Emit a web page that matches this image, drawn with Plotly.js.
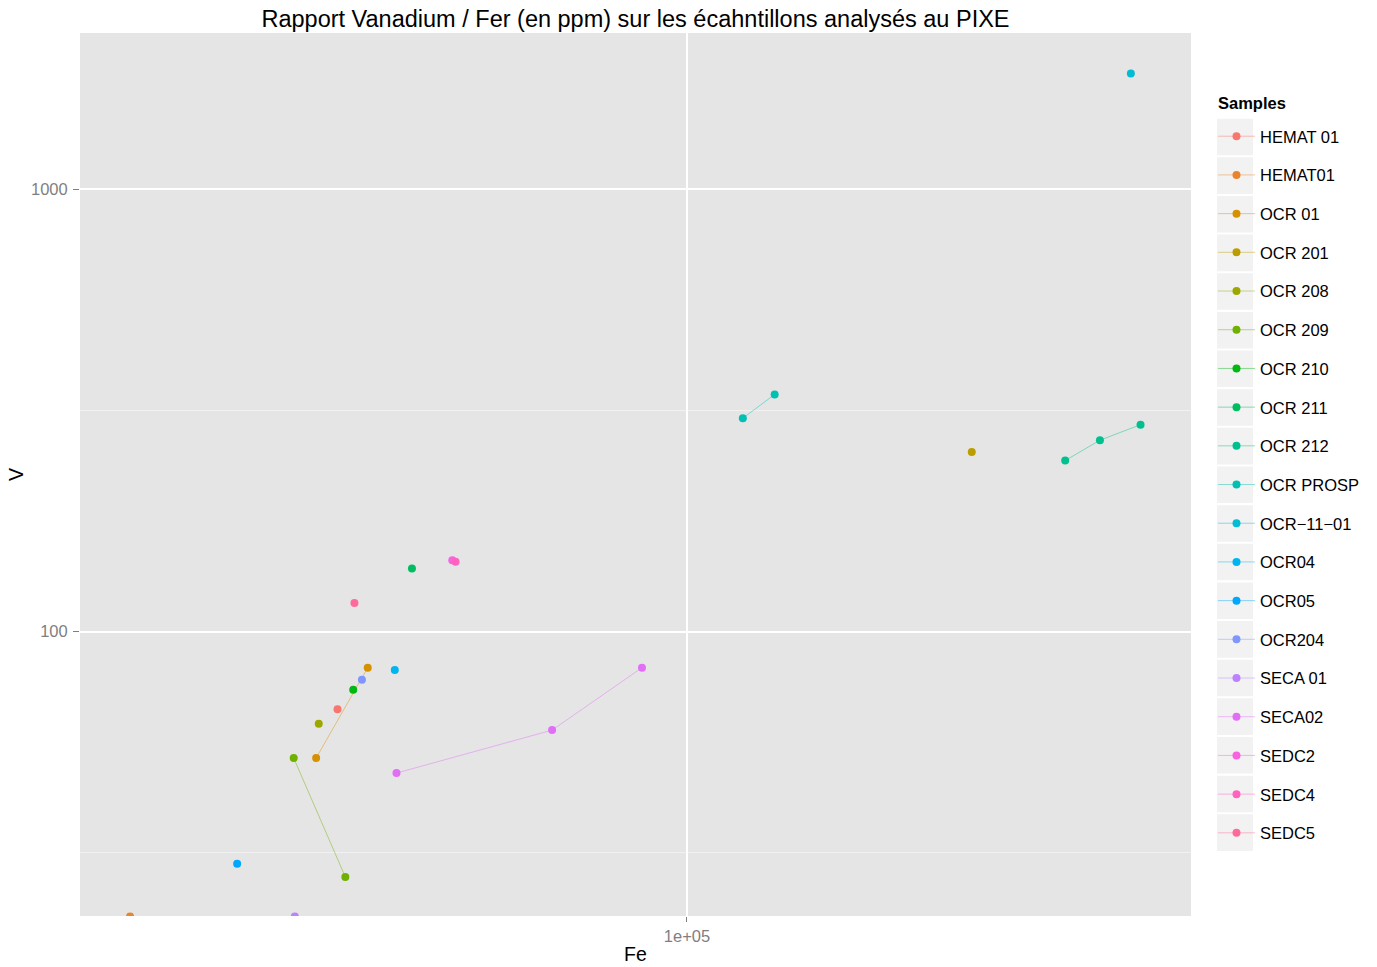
<!DOCTYPE html>
<html><head><meta charset="utf-8">
<script src="https://cdn.plot.ly/plotly-3.0.1.min.js"></script>
<style>html,body{margin:0;padding:0;background:#fff;} #chart{width:1377px;height:967px;}</style>
</head><body><div id="chart"></div>
<script>
// ---- data ----
const samples = ["HEMAT 01","HEMAT01","OCR 01","OCR 201","OCR 208","OCR 209","OCR 210","OCR 211","OCR 212","OCR PROSP","OCR\u221211\u221201","OCR04","OCR05","OCR204","SECA 01","SECA02","SEDC2","SEDC4","SEDC5"];
const feValues = [
  [53850],
  [37290],
  [51850, 56810],
  [165600],
  [52090],
  [49830, 54600],
  [55370],
  [61440],
  [195400, 207800, 223300],
  [110400, 116800],
  [219500],
  [59600],
  [45080],
  [56230],
  [49930],
  [59780, 78750, 92340],
  [65990],
  [66370],
  [55490]
];
const vValues = [
  [66.8],
  [22.7],
  [51.8, 82.9],
  [254.7],
  [61.9],
  [51.8, 27.9],
  [73.9],
  [138.9],
  [243.6, 270.8, 293.6],
  [303.7, 343.6],
  [1825],
  [81.9],
  [29.9],
  [77.9],
  [22.7],
  [47.9, 59.9, 82.9],
  [144.9],
  [143.8],
  [116.0]
];
const xTickVals = [1e5];
const xTickText = ["1e+05"];
const yTickVals = [100, 1000];
const yTickText = ["100", "1000"];
const yMinorVals = [Math.pow(10,1.5), Math.pow(10,2.5)];
const legendTitle = "Samples";

// ---- style ----
const palette = ["#F8766D","#E9842C","#D69100","#BC9D00","#9CA700","#6FB000","#00B813","#00BD61","#00C08E","#00C0B4","#00BDD4","#00B5EE","#00A7FF","#7F96FF","#BC81FF","#E26EF7","#F863DF","#FF62BF","#FF6A9A"];
function rgba(hex, a){
  const n = parseInt(hex.slice(1),16);
  return `rgba(${(n>>16)&255},${(n>>8)&255},${n&255},${a})`;
}
const W = 1377, H = 967;
const M = {l:80, r:186, t:33, b:50.5};
const plotW = W - M.l - M.r, plotH = H - M.t - M.b;
const FONT = "Liberation Sans, Arial, Helvetica, sans-serif";

const traces = samples.map((s,i) => ({
  type:'scatter', mode:'lines+markers', name:s, legendgroup:'g'+i,
  x: feValues[i], y: vValues[i],
  line:{color: rgba(palette[i],0.45), width:1},
  marker:{color: palette[i], size:8},
  hoverinfo:'x+y+name'
}));

// legend key background boxes (decoration)
const keyTop = 137, keyStep = 38.67;
const shapes = samples.map((s,i) => {
  const cy = keyTop + i*keyStep;
  return {type:'rect', xref:'paper', yref:'paper', layer:'below',
    x0:(1217-M.l)/plotW, x1:(1253-M.l)/plotW,
    y0:(H-M.b-(cy+18.3))/plotH, y1:(H-M.b-(cy-18.3))/plotH,
    fillcolor:'#F2F2F2', line:{width:0}};
});

const layout = {
  width:W, height:H, margin:M,
  paper_bgcolor:'#FFFFFF', plot_bgcolor:'#E5E5E5',
  font:{family:FONT, color:'#000000'},
  showlegend:true,
  title:{text:'Rapport Vanadium / Fer (en ppm) sur les écahntillons analysés au PIXE',
    font:{size:23.5, color:'#000000', family:FONT},
    x:0.5, xref:'paper', xanchor:'center', y:1-19/H, yref:'container', yanchor:'middle'},
  xaxis:{type:'log', range:[4.5331,5.3877], tickmode:'array', tickvals:xTickVals, ticktext:xTickText,
    ticks:'outside', ticklen:5, tickwidth:1, tickcolor:'#7F7F7F', ticklabelstandoff:0,
    tickfont:{size:16.5, color:'#7F7F7F', family:FONT},
    showgrid:true, gridcolor:'#FFFFFF', gridwidth:1.8, zeroline:false, showline:false,
    automargin:false,
    title:{text:'Fe', font:{size:19.5, color:'#000000', family:FONT}, standoff:3}},
  yaxis:{type:'log', range:[1.3573,3.353], tickmode:'array', tickvals:yTickVals, ticktext:yTickText,
    ticks:'outside', ticklen:6, tickwidth:1, tickcolor:'#7F7F7F', ticklabelstandoff:2,
    tickfont:{size:16.5, color:'#7F7F7F', family:FONT},
    showgrid:true, gridcolor:'#FFFFFF', gridwidth:1.8, zeroline:false, showline:false,
    minor:{tickmode:'array', tickvals:yMinorVals, showgrid:true, gridcolor:'#F2F2F2', gridwidth:0.9, ticks:''},
    automargin:false,
    title:{text:'V', font:{size:19.5, color:'#000000', family:FONT}, standoff:2}},
  legend:{xref:'container', yref:'container', x:1213/W, y:1-119/H, xanchor:'left', yanchor:'top',
    bgcolor:'rgba(0,0,0,0)', borderwidth:0, tracegroupgap:14.25, itemwidth:37, maxheight:900,
    font:{size:16.5, color:'#000000', family:FONT}},
  annotations:[{text:'<b>'+legendTitle+'</b>', xref:'paper', yref:'paper',
    x:(1216-M.l)/plotW, y:(H-M.b-103)/plotH, xanchor:'left', yanchor:'middle', showarrow:false,
    font:{size:16.5, color:'#000000', family:FONT}}],
  shapes:shapes
};
Plotly.newPlot('chart', traces, layout, {displayModeBar:false, staticPlot:true});
</script>
</body></html>
